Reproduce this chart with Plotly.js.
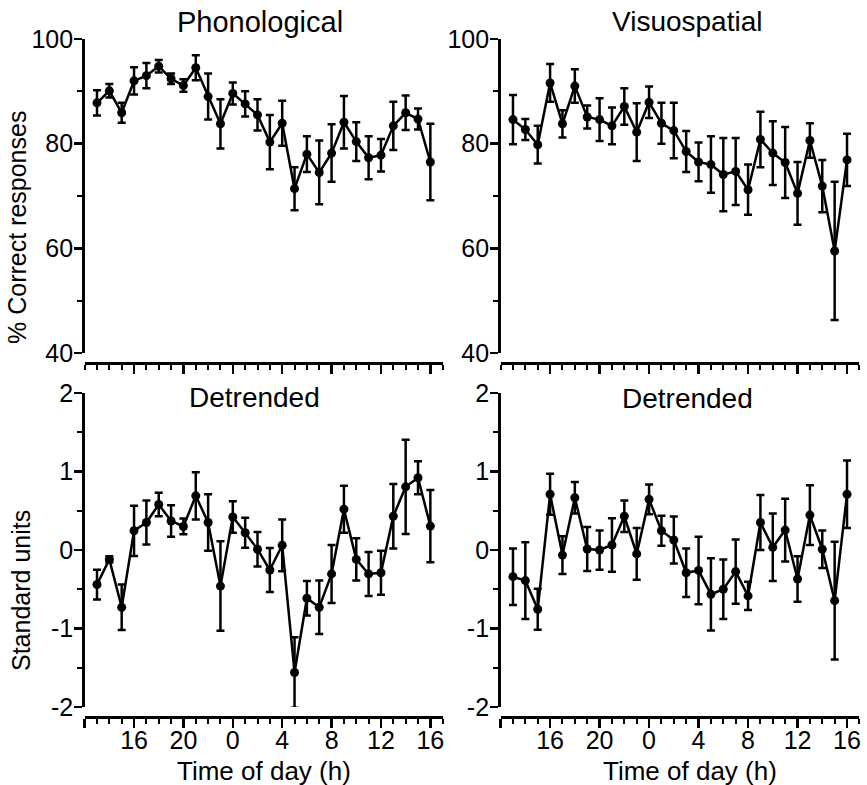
<!DOCTYPE html>
<html>
<head>
<meta charset="utf-8">
<script src="https://cdn.plot.ly/plotly-3.0.1.min.js"></script>
<style>html,body{margin:0;padding:0;background:#fff;}#chart{width:867px;height:785px;}</style>
</head>
<body>
<div id="chart"></div>
<script>
// Hours of day (13 h on day 1 through 16 h on day 2, continuous clock hours)
const hours = [13,14,15,16,17,18,19,20,21,22,23,24,25,26,27,28,29,30,31,32,33,34,35,36,37,38,39,40];
const tickVals = [12,16,20,24,28,32,36,40];
const tickText = ['', '16','20','0','4','8','12','16'];
const pctTickVals = [40,60,80,100];
const pctTickText = ['40','60','80','100'];
const stdTickVals = [-2,-1,0,1,2];
const stdTickText = ['-2','-1','0','1','2'];

// Phonological % correct
const phonMean = [87.8,90.1,85.9,92.0,93.0,94.8,92.4,91.1,94.5,89.0,83.8,89.6,87.6,85.5,80.3,83.9,71.4,78.0,74.5,78.2,84.1,80.4,77.3,77.8,83.4,85.9,84.7,76.5];
const phonErr  = [2.4,1.3,1.9,2.6,2.4,1.2,1.0,1.2,2.4,4.4,4.7,2.1,2.4,3.0,5.2,4.3,4.1,3.4,6.1,5.5,5.0,3.7,4.1,3.1,4.6,3.3,2.0,7.3];

// Visuospatial % correct
const visMean = [84.6,82.7,79.8,91.6,83.8,91.0,85.1,84.6,83.4,87.1,82.2,87.9,83.9,82.5,78.5,76.5,76.0,74.1,74.7,71.2,80.8,78.2,76.4,70.5,80.6,71.9,59.5,76.9];
const visErr  = [4.7,2.0,3.6,3.6,2.6,3.2,2.2,4.1,3.5,3.5,5.5,3.0,3.9,5.3,3.9,3.7,5.4,7.0,6.4,4.8,5.3,6.1,6.8,6.0,3.3,5.0,13.2,5.0];

// Detrended (standard units)
const phonDet    = [-0.44,-0.12,-0.73,0.245,0.35,0.58,0.37,0.30,0.69,0.35,-0.46,0.42,0.22,0.01,-0.255,0.06,-1.56,-0.615,-0.73,-0.305,0.52,-0.12,-0.305,-0.29,0.43,0.805,0.92,0.305];
const phonDetErr = [0.19,0.04,0.29,0.32,0.28,0.15,0.20,0.10,0.30,0.36,0.57,0.20,0.19,0.22,0.28,0.33,0.45,0.22,0.34,0.37,0.30,0.27,0.28,0.28,0.41,0.60,0.21,0.46];
const visDet     = [-0.34,-0.39,-0.755,0.71,-0.065,0.665,0.013,0.0,0.064,0.43,-0.05,0.645,0.245,0.127,-0.29,-0.26,-0.565,-0.5,-0.275,-0.585,0.35,0.034,0.254,-0.37,0.445,0.01,-0.645,0.71];
const visDetErr  = [0.36,0.49,0.26,0.26,0.24,0.20,0.28,0.25,0.34,0.20,0.33,0.19,0.19,0.30,0.31,0.43,0.46,0.38,0.41,0.18,0.35,0.43,0.40,0.29,0.38,0.24,0.75,0.43];

const W = 867, H = 785;
const fx = p => p / W;
const fy = p => 1 - p / H;
const FONT = 'Liberation Sans, Arial, Helvetica, sans-serif';

function trace(y, e, xa, ya) {
  return {
    x: hours, y: y, xaxis: xa, yaxis: ya,
    type: 'scatter', mode: 'lines+markers',
    line: {color: 'black', width: 2.5},
    marker: {color: 'black', size: 9},
    error_y: {type: 'data', array: e, visible: true, color: 'black', thickness: 2.5, width: 4},
    showlegend: false, hoverinfo: 'skip'
  };
}

const data = [
  trace(phonMean, phonErr, 'x', 'y'),
  trace(visMean, visErr, 'x2', 'y2'),
  trace(phonDet, phonDetErr, 'x3', 'y3'),
  trace(visDet, visDetErr, 'x4', 'y4')
];

function xAxis(dom, pos, labels) {
  return {
    domain: dom, range: [12, 41], anchor: 'free', position: pos,
    showline: true, linecolor: 'black', linewidth: 2.5,
    ticks: 'outside', ticklen: 9, tickwidth: 2.5, tickcolor: 'black',
    tickmode: 'array', tickvals: tickVals, ticktext: tickText,
    showticklabels: labels, ticklabelstandoff: -9,
    tickfont: {family: FONT, size: 25, color: 'black'},
    minor: {tickmode: 'linear', tick0: 12, dtick: 1, ticks: 'outside', ticklen: 5, tickwidth: 2, tickcolor: 'black'},
    showgrid: false, zeroline: false, fixedrange: true
  };
}
function yAxis(dom, range, tv, tt, mdtick, anchor) {
  return {
    domain: dom, range: range, anchor: anchor,
    showline: true, linecolor: 'black', linewidth: 2.5,
    ticks: 'outside', ticklen: 8, tickwidth: 2.5, tickcolor: 'black',
    tickmode: 'array', tickvals: tv, ticktext: tt, ticklabelstandoff: -4,
    tickfont: {family: FONT, size: 25, color: 'black'},
    minor: {tickmode: 'linear', tick0: range[0], dtick: mdtick, ticks: 'outside', ticklen: 5, tickwidth: 2, tickcolor: 'black'},
    showgrid: false, zeroline: false, fixedrange: true
  };
}

const leftDom = [fx(84.65), fx(442.7)];
const rightDom = [fx(500.6), fx(859.4)];
const topDom = [fy(353), fy(39)];
const botDom = [fy(707), fy(393)];

function ann(text, x, y, size, angle) {
  return {text: text, x: fx(x), y: fy(y), xref: 'paper', yref: 'paper',
    xanchor: 'center', yanchor: 'middle', showarrow: false, textangle: angle || 0,
    font: {family: FONT, size: size, color: 'black'}};
}

const layout = {
  width: W, height: H, autosize: false,
  margin: {l: 0, r: 0, t: 0, b: 0, pad: 0},
  paper_bgcolor: 'white', plot_bgcolor: 'white',
  showlegend: false,
  xaxis: xAxis(leftDom, fy(363), false),
  yaxis: yAxis(topDom, [40, 100], pctTickVals, pctTickText, 10, 'x'),
  xaxis2: xAxis(rightDom, fy(363), false),
  yaxis2: yAxis(topDom, [40, 100], pctTickVals, pctTickText, 10, 'x2'),
  xaxis3: xAxis(leftDom, fy(717), true),
  yaxis3: yAxis(botDom, [-2, 2], stdTickVals, stdTickText, 0.5, 'x3'),
  xaxis4: xAxis(rightDom, fy(717), true),
  yaxis4: yAxis(botDom, [-2, 2], stdTickVals, stdTickText, 0.5, 'x4'),
  annotations: [
    ann('Phonological', 260, 22, 29),
    ann('Visuospatial', 687, 22, 28),
    ann('Detrended', 254, 397, 28),
    ann('Detrended', 687, 398, 28),
    ann('% Correct responses', 17, 228, 25, -90),
    ann('Standard units', 21, 591, 25, -90),
    ann('Time of day (h)', 264, 771, 26),
    ann('Time of day (h)', 690, 771, 26)
  ]
};

Plotly.newPlot('chart', data, layout, {displayModeBar: false, staticPlot: true});
</script>
</body>
</html>
